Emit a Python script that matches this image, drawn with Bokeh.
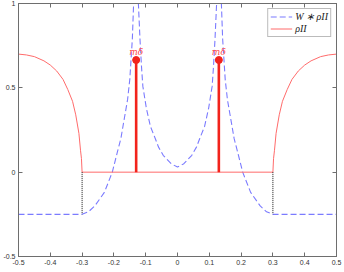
import numpy as np
from bokeh.plotting import figure
from bokeh.models import Range1d, FixedTicker, LinearAxis, Legend, LegendItem
from bokeh.core.properties import value
from bokeh.embed import file_html
from bokeh.resources import INLINE

nan = float("nan")

# rho_II (red solid)
rho_x = [-0.5, -0.475, -0.45, -0.42, -0.40, -0.38, -0.36, -0.345, -0.33, -0.32, -0.31, -0.305, -0.302, -0.3,
         0.3, 0.302, 0.305, 0.31, 0.32, 0.33, 0.345, 0.36, 0.38, 0.40, 0.42, 0.45, 0.475, 0.5]
rho_y = [0.70, 0.695, 0.685, 0.66, 0.635, 0.60, 0.55, 0.49, 0.42, 0.34, 0.23, 0.13, 0.08, 0.0,
         0.0, 0.08, 0.13, 0.23, 0.34, 0.42, 0.49, 0.55, 0.60, 0.635, 0.66, 0.685, 0.695, 0.70]

# W * rho_II (blue dashed), singular at the delta positions
w_x = [-0.5, -0.3, -0.28, -0.26, -0.23, -0.205, -0.189, -0.178, -0.168, -0.157, -0.150, -0.142, -0.138, -0.134, -0.131,
       nan,
       -0.129, -0.126, -0.123, -0.118, -0.113, -0.109, -0.098, -0.085, -0.07, -0.06, -0.045, -0.035, -0.02, 0.0,
       0.02, 0.035, 0.045, 0.06, 0.07, 0.085, 0.098, 0.109, 0.113, 0.118, 0.123, 0.126, 0.129,
       nan,
       0.131, 0.134, 0.138, 0.142, 0.150, 0.157, 0.168, 0.178, 0.189, 0.205, 0.23, 0.26, 0.28, 0.3, 0.5]
w_y = [-0.25, -0.25, -0.235, -0.2, -0.12, 0.0, 0.12, 0.2, 0.31, 0.43, 0.55, 0.79, 1.0, 1.4, 2.5,
       nan,
       2.5, 1.4, 1.0, 0.79, 0.62, 0.51, 0.38, 0.27, 0.2, 0.15, 0.1, 0.08, 0.05, 0.03,
       0.05, 0.08, 0.1, 0.15, 0.2, 0.27, 0.38, 0.51, 0.62, 0.79, 1.0, 1.4, 2.5,
       nan,
       2.5, 1.4, 1.0, 0.79, 0.55, 0.43, 0.31, 0.2, 0.12, 0.0, -0.12, -0.2, -0.235, -0.25, -0.25]

# delta masses
delta_x = [-0.13, 0.13]
delta_h = [0.665, 0.665]
delta_label = ["mδ", "mδ"]

# dotted edges
edge_x = [-0.3, 0.3]
edge_top = [0.0, 0.0]
edge_bot = [-0.25, -0.25]

xticks = [-0.5, -0.4, -0.3, -0.2, -0.1, 0.0, 0.1, 0.2, 0.3, 0.4, 0.5]
xtick_labels = ["-0.5", "-0.4", "-0.3", "-0.2", "-0.1", "0", "0.1", "0.2", "0.3", "0.4", "0.5"]
yticks = [-0.5, 0.0, 0.5, 1.0]
ytick_labels = ["-0.5", "0", "0.5", "1"]

AX = "#6e6e6e"
TXT = "#333333"

p = figure(width=344, height=272, output_backend="svg", toolbar_location=None,
           x_range=Range1d(-0.5, 0.5), y_range=Range1d(-0.5, 1.0),
           min_border_left=18, min_border_right=8, min_border_top=3, min_border_bottom=16)
p.grid.visible = False
p.outline_line_color = AX
p.background_fill_color = "white"

for ax, ticks, labels in ((p.xaxis[0], xticks, xtick_labels), (p.yaxis[0], yticks, ytick_labels)):
    ax.ticker = FixedTicker(ticks=ticks)
    ax.major_label_overrides = {t: l for t, l in zip(ticks, labels)}
    ax.major_tick_in = 4
    ax.major_tick_out = 0
    ax.minor_tick_line_color = None
    ax.axis_line_color = AX
    ax.major_tick_line_color = AX
    ax.major_label_text_font = "Liberation Sans"
    ax.major_label_text_font_size = "7px"
    ax.major_label_text_color = TXT
    ax.major_label_standoff = 3

# box ticks on top and right (no labels drawn)
top = LinearAxis(ticker=FixedTicker(ticks=xticks), major_tick_in=4, major_tick_out=0,
                 minor_tick_line_color=None, axis_line_color=AX, major_tick_line_color=AX,
                 major_label_text_font_size="1px", major_label_text_color=None, major_label_standoff=0)
right = LinearAxis(ticker=FixedTicker(ticks=yticks), major_tick_in=4, major_tick_out=0,
                   minor_tick_line_color=None, axis_line_color=AX, major_tick_line_color=AX,
                   major_label_text_font_size="1px", major_label_text_color=None, major_label_standoff=0)
p.add_layout(top, "above")
p.add_layout(right, "right")

r_w = p.line(w_x, w_y, line_color="#7b7bff", line_width=1.1, line_dash="6 3")
r_rho = p.line(rho_x, rho_y, line_color="#ff6b6b", line_width=1.0)
p.segment(x0=edge_x, y0=edge_top, x1=edge_x, y1=edge_bot, line_color="#111111",
          line_width=1, line_dash="1 1")
p.segment(x0=delta_x, y0=[0, 0], x1=delta_x, y1=delta_h, line_color="#f2231c", line_width=2.6)
p.scatter(delta_x, delta_h, size=7, fill_color="#f2231c", line_color="#f2231c")
p.text(x=delta_x, y=delta_h, text=delta_label, text_align="center", text_baseline="bottom",
       y_offset=-3, text_font=value("DejaVu Serif"), text_font_style="italic",
       text_font_size="9px", text_color="#ff4a4a")

legend = Legend(items=[LegendItem(label="W ∗ ρII", renderers=[r_w]),
                       LegendItem(label="ρII", renderers=[r_rho])],
                location="top_right")
legend.label_text_font = "Liberation Serif"
legend.label_text_font_style = "italic"
legend.label_text_font_size = "10px"
legend.label_text_color = "#222222"
legend.label_height = 9
legend.label_standoff = 3
legend.glyph_width = 22
legend.glyph_height = 9
legend.spacing = 1
legend.padding = 2
legend.margin = 5
legend.border_line_color = "#777777"
legend.background_fill_alpha = 1.0
p.add_layout(legend)

open("out.html", "w").write(file_html(p, INLINE))
